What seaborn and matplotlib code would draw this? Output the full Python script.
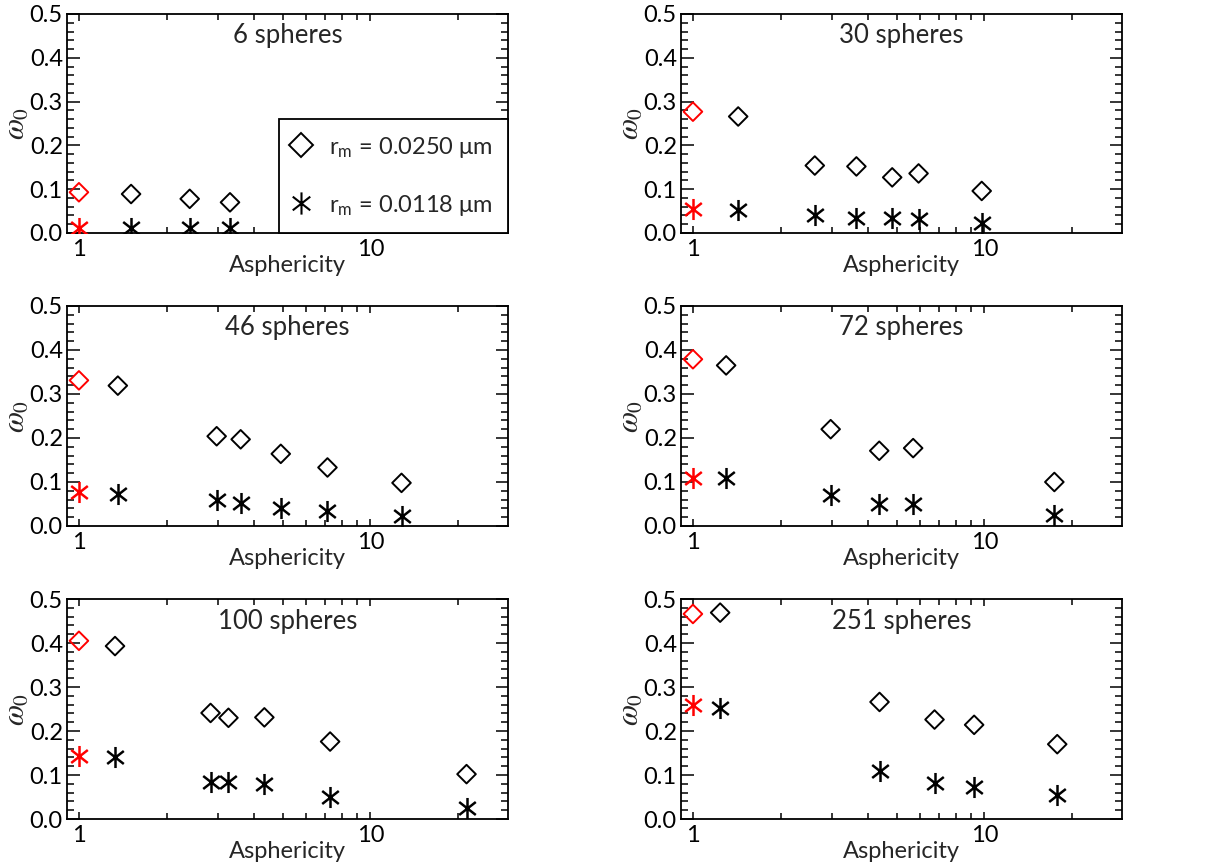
import numpy as np
import pandas as pd
import matplotlib
matplotlib.use("Agg")
import matplotlib.pyplot as plt
from matplotlib.path import Path
from matplotlib.ticker import FixedLocator, MultipleLocator, NullFormatter, FormatStrFormatter
import seaborn as sns

# number of spheres per panel
n_spheres = [6, 30, 46, 72, 100, 251]

# asphericity (x) and single scattering albedo (y) per panel
asph_6 = [1.0, 1.51, 2.40, 3.30]
w_large_6 = [0.093, 0.089, 0.078, 0.070]
w_small_6 = [0.012, 0.012, 0.012, 0.012]

asph_30 = [1.0, 1.43, 2.62, 3.64, 4.83, 5.95, 9.8]
w_large_30 = [0.277, 0.266, 0.154, 0.152, 0.127, 0.136, 0.096]
w_small_30 = [0.055, 0.052, 0.042, 0.034, 0.034, 0.033, 0.023]

asph_46 = [1.0, 1.36, 2.97, 3.59, 4.93, 7.13, 12.8]
w_large_46 = [0.331, 0.319, 0.204, 0.197, 0.164, 0.133, 0.098]
w_small_46 = [0.077, 0.073, 0.058, 0.052, 0.042, 0.033, 0.023]

asph_72 = [1.0, 1.30, 2.97, 4.36, 5.70, 17.4]
w_large_72 = [0.379, 0.365, 0.220, 0.171, 0.177, 0.100]
w_small_72 = [0.110, 0.108, 0.071, 0.049, 0.051, 0.024]

asph_100 = [1.0, 1.33, 2.83, 3.26, 4.33, 7.28, 21.4]
w_large_100 = [0.405, 0.393, 0.241, 0.230, 0.231, 0.176, 0.102]
w_small_100 = [0.144, 0.140, 0.085, 0.084, 0.080, 0.051, 0.025]

asph_251 = [1.0, 1.24, 4.37, 6.75, 9.23, 17.8]
w_large_251 = [0.466, 0.469, 0.266, 0.226, 0.214, 0.170]
w_small_251 = [0.259, 0.252, 0.110, 0.081, 0.072, 0.055]

panels = [
    (asph_6, w_large_6, w_small_6),
    (asph_30, w_large_30, w_small_30),
    (asph_46, w_large_46, w_small_46),
    (asph_72, w_large_72, w_small_72),
    (asph_100, w_large_100, w_small_100),
    (asph_251, w_large_251, w_small_251),
]

sns.set_style("ticks")
plt.rcParams['font.family'] = ['Lato', 'DejaVu Sans']
plt.rcParams['mathtext.fontset'] = 'stix'

# IDL-like asterisk: vertical stroke plus two diagonals
a = np.deg2rad(38)
dx, dy = np.cos(a), np.sin(a)
asterisk = Path([(0, -1), (0, 1), (-dx, -dy), (dx, dy), (-dx, dy), (dx, -dy)],
                [Path.MOVETO, Path.LINETO] * 3)

W, H = 1221, 866
fig = plt.figure(figsize=(W / 100, H / 100), dpi=100)

# axes boxes in pixels: (left, right) and (top, bottom)
col_x = [(67, 508), (681, 1122)]
row_y = [(14, 233), (306, 526), (599, 819)]

for i, (asph, w_large, w_small) in enumerate(panels):
    r, c = divmod(i, 2)
    x0, x1 = col_x[c]
    y0, y1 = row_y[r]
    ax = fig.add_axes([x0 / W, 1 - y1 / H, (x1 - x0) / W, (y1 - y0) / H])

    df = pd.DataFrame({'asph': asph, 'large': w_large, 'small': w_small})
    df['sphere'] = df['asph'] == 1.0
    sph = df[df['sphere']]
    rest = df[~df['sphere']]

    sns.scatterplot(data=rest, x='asph', y='large', marker='D', s=90,
                    facecolor='none', edgecolor='black', linewidth=1.4, ax=ax, zorder=3)
    sns.scatterplot(data=sph, x='asph', y='large', marker='D', s=90,
                    facecolor='none', edgecolor='red', linewidth=1.4, ax=ax, zorder=3)
    sns.scatterplot(data=rest, x='asph', y='small', marker=asterisk, s=230,
                    color='black', edgecolor='black', linewidth=1.8, ax=ax, zorder=3)
    sns.scatterplot(data=sph, x='asph', y='small', marker=asterisk, s=230,
                    color='red', edgecolor='red', linewidth=1.8, ax=ax, zorder=3)

    ax.set_xscale('log')
    ax.set_xlim(0.91, 29.7)
    ax.set_ylim(0.0, 0.5)
    ax.xaxis.set_major_locator(FixedLocator([1, 10]))
    ax.xaxis.set_major_formatter(FormatStrFormatter('%d'))
    ax.xaxis.set_minor_locator(FixedLocator([2, 3, 4, 5, 6, 7, 8, 9, 20]))
    ax.xaxis.set_minor_formatter(NullFormatter())
    ax.yaxis.set_major_locator(MultipleLocator(0.1))
    ax.yaxis.set_minor_locator(MultipleLocator(0.02))
    ax.yaxis.set_major_formatter(FormatStrFormatter('%.1f'))

    ax.tick_params(axis='both', which='both', direction='in', top=True, right=True,
                   width=1.1, labelsize=17, colors='black')
    ax.tick_params(axis='x', which='major', length=5, pad=4)
    ax.tick_params(axis='x', which='minor', length=4)
    ax.tick_params(axis='y', which='major', length=9, pad=3)
    ax.tick_params(axis='y', which='minor', length=5)
    for sp in ax.spines.values():
        sp.set_linewidth(1.3)
        sp.set_color('black')

    ax.set_xlabel('Asphericity', fontsize=17, labelpad=-3)
    ax.set_ylabel(r'$\omega_0$', fontsize=22, labelpad=-1)
    ax.text(0.5, 0.9, f'{n_spheres[i]} spheres', transform=ax.transAxes,
            ha='center', va='center', fontsize=18.5)

    if i == 0:
        h_d = plt.Line2D([], [], marker='D', color='black', markerfacecolor='none',
                         linestyle='none', markersize=12, markeredgewidth=1.4)
        h_s = plt.Line2D([], [], marker=asterisk, color='black', linestyle='none',
                         markersize=16, markeredgewidth=1.5)
        leg = ax.legend([h_d, h_s],
                        [r'r$_\mathregular{m}$ = 0.0250 μm', r'r$_\mathregular{m}$ = 0.0118 μm'],
                        loc='lower right', bbox_to_anchor=(1.0, 0.0), borderaxespad=0,
                        fontsize=17, frameon=True, fancybox=False, edgecolor='black',
                        handlelength=0.5, handletextpad=0.95, labelspacing=1.4,
                        borderpad=0.65)
        leg.get_frame().set_linewidth(1.3)
        leg.get_frame().set_alpha(1)

fig.savefig('out.png', dpi=100)
